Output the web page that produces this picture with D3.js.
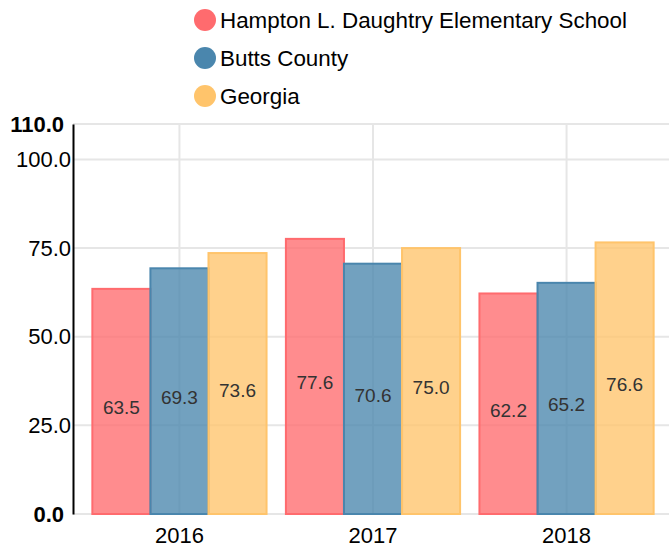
<!DOCTYPE html>
<html>
<head>
<meta charset="utf-8">
<style>
  body { margin: 0; background: #fff; }
  svg { font-family: "Liberation Sans", Arial, sans-serif; }
  .grid line { stroke: #e6e6e6; stroke-width: 2; }
  .bar { stroke-width: 2; fill-opacity: 0.78; }
</style>
</head>
<body>
<svg id="chart" width="669" height="548"></svg>
<script src="https://d3js.org/d3.v7.min.js"></script>
<script>
  const years = ["2016", "2017", "2018"];
  const seriesNames = ["Hampton L. Daughtry Elementary School", "Butts County", "Georgia"];
  const colors = ["#ff6b6e", "#4a86ad", "#ffc46b"];
  const school = [63.5, 77.6, 62.2];
  const county = [69.3, 70.6, 65.2];
  const georgia = [73.6, 75.0, 76.6];
  const yTicks = [0, 25, 50, 75, 100, 110];

  const values = [school, county, georgia];
  const svg = d3.select("#chart");
  const mLeft = 73, mRight = 669, mTop = 124, mBottom = 514;

  const y = d3.scaleLinear().domain([0, 110]).range([mBottom, mTop]);
  const x0 = d3.scaleBand().domain(years).range([mLeft, mRight + 4]).paddingInner(0.1).paddingOuter(0.1);
  const x1 = d3.scaleBand().domain(d3.range(3)).range([0, x0.bandwidth()]);

  // gridlines
  const grid = svg.append("g").attr("class", "grid");
  grid.selectAll(".h").data(yTicks).join("line").attr("class", "h")
    .attr("x1", mLeft).attr("x2", mRight)
    .attr("y1", d => y(d)).attr("y2", d => y(d));
  grid.selectAll(".v").data(years).join("line").attr("class", "v")
    .attr("x1", d => x0(d) + x0.bandwidth() / 2).attr("x2", d => x0(d) + x0.bandwidth() / 2)
    .attr("y1", mTop).attr("y2", mBottom);

  // bars
  const rows = [];
  years.forEach((yr, i) => values.forEach((s, j) => rows.push({ yr, j, v: s[i] })));
  svg.append("g").selectAll("rect").data(rows).join("rect")
    .attr("class", "bar")
    .attr("x", d => x0(d.yr) + x1(d.j))
    .attr("y", d => y(d.v))
    .attr("width", x1.bandwidth())
    .attr("height", d => y(0) - y(d.v))
    .attr("fill", d => colors[d.j])
    .attr("stroke", d => colors[d.j]);

  svg.append("g").selectAll("text").data(rows).join("text")
    .attr("x", d => x0(d.yr) + x1(d.j) + x1.bandwidth() / 2)
    .attr("y", d => (y(d.v) + y(0)) / 2 + 13)
    .attr("text-anchor", "middle")
    .attr("font-size", 19)
    .attr("fill", "#333")
    .text(d => d.v.toFixed(1));

  // y axis
  const yAxis = svg.append("g").attr("transform", `translate(${mLeft},0)`)
    .call(d3.axisLeft(y).tickValues(yTicks).tickFormat(d3.format(".1f")).tickSize(0).tickPadding(2));
  yAxis.select(".domain").attr("stroke", "#000").attr("stroke-width", 2);
  yAxis.selectAll("text")
    .attr("font-size", 22).attr("fill", "#000")
    .attr("font-weight", d => (d === 0 || d === 110) ? "bold" : "normal")
    .attr("x", d => (d === 0 || d === 110) ? -9 : -2);

  // x axis
  const xAxis = svg.append("g").attr("transform", `translate(0,${mBottom})`)
    .call(d3.axisBottom(x0).tickSize(0).tickPadding(13));
  xAxis.select(".domain").remove();
  xAxis.selectAll("text").attr("font-size", 22).attr("fill", "#000");

  // legend
  const legend = svg.append("g").selectAll("g").data(seriesNames).join("g")
    .attr("transform", (d, i) => `translate(205,${20 + i * 38})`);
  legend.append("circle").attr("r", 11).attr("fill", (d, i) => colors[i]);
  legend.append("text").attr("x", 15).attr("y", 8).attr("font-size", 22.4).attr("fill", "#000").text(d => d);
</script>
</body>
</html>
